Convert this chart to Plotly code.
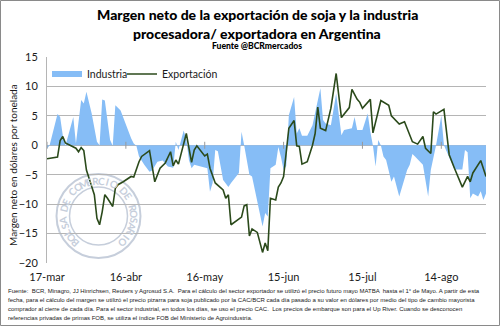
import math
import plotly.graph_objects as go

# ---------------- data ----------------
exp_dates = ["2017-03-17","2017-03-21","2017-03-22","2017-03-23","2017-03-24","2017-03-28","2017-03-29","2017-03-30","2017-03-31",
             "2017-04-01","2017-04-03","2017-04-04","2017-04-05","2017-04-06","2017-04-07","2017-04-08","2017-04-09","2017-04-10","2017-04-11","2017-04-12","2017-04-13","2017-04-15","2017-04-18","2017-04-19","2017-04-21","2017-04-22","2017-04-25","2017-04-27","2017-04-29",
             "2017-05-01","2017-05-03","2017-05-04","2017-05-05","2017-05-06","2017-05-09","2017-05-11","2017-05-12","2017-05-13","2017-05-16","2017-05-17","2017-05-18","2017-05-20","2017-05-23","2017-05-24","2017-05-25","2017-05-26","2017-05-30","2017-05-31",
             "2017-06-01","2017-06-02","2017-06-03","2017-06-05","2017-06-07","2017-06-08","2017-06-09","2017-06-10","2017-06-12","2017-06-13","2017-06-14","2017-06-15","2017-06-17","2017-06-19","2017-06-20","2017-06-21","2017-06-22","2017-06-24","2017-06-26","2017-06-27","2017-06-28","2017-06-29",
             "2017-07-01","2017-07-03","2017-07-05","2017-07-07","2017-07-10","2017-07-11","2017-07-13","2017-07-14","2017-07-15","2017-07-18","2017-07-19","2017-07-22","2017-07-24","2017-07-25","2017-07-26","2017-07-29","2017-07-31",
             "2017-08-03","2017-08-05","2017-08-07","2017-08-08","2017-08-10","2017-08-11","2017-08-12","2017-08-15","2017-08-17","2017-08-19","2017-08-22","2017-08-24","2017-08-25","2017-08-26","2017-08-29","2017-08-31"]
exportacion = [-2.3,-2.0,0.8,1.5,0.4,-0.5,-1.1,-0.4,-0.9,
               -4.2,-7.0,-8.4,-12.4,-13.5,-11.3,-8.4,-9.0,-9.6,-10.4,-7.3,-6.7,-6.2,-5.3,-5.4,-2.8,-1.9,-0.9,-6.2,-3.9,
               -3.0,-1.1,-3.5,-2.5,-3.2,2.0,-2.9,-0.8,-0.1,-1.8,-1.5,-3.9,-6.4,-7.6,-9.0,-8.4,-13.5,-12.2,-10.3,
               -10.1,-15.4,-14.2,-14.8,-18.2,-16.6,-17.9,-9.0,-9.3,-7.1,-6.4,-5.3,2.9,4.2,-0.1,-0.2,-3.2,-2.8,0.0,2.0,6.5,2.9,
               2.5,6.3,12.2,4.7,6.4,9.5,7.8,7.3,6.3,7.8,2.1,7.6,7.1,6.8,5.0,3.6,4.0,
               0.6,0.2,1.5,-0.5,-1.4,5.7,5.3,6.1,-1.6,-3.9,-7.1,-5.3,-6.2,-4.7,-2.6,-5.3]

ind_dates = ["2017-03-17","2017-03-18","2017-03-21","2017-03-22","2017-03-23","2017-03-24","2017-03-27","2017-03-28","2017-03-30","2017-03-31",
             "2017-04-01","2017-04-03","2017-04-05","2017-04-06","2017-04-07","2017-04-08","2017-04-10","2017-04-11","2017-04-12","2017-04-14","2017-04-18","2017-04-19","2017-04-20","2017-04-21","2017-04-23","2017-04-25","2017-04-26","2017-04-28","2017-04-30",
             "2017-05-02","2017-05-04","2017-05-05","2017-05-06","2017-05-08","2017-05-09","2017-05-10","2017-05-11","2017-05-12","2017-05-17","2017-05-18","2017-05-19","2017-05-20","2017-05-21","2017-05-23","2017-05-25","2017-05-26","2017-05-29","2017-05-30","2017-05-31",
             "2017-06-02","2017-06-03","2017-06-07","2017-06-08","2017-06-09","2017-06-10","2017-06-12","2017-06-13","2017-06-14","2017-06-15","2017-06-16","2017-06-17","2017-06-19","2017-06-20","2017-06-21","2017-06-22","2017-06-24","2017-06-26","2017-06-29","2017-06-30",
             "2017-07-01","2017-07-03","2017-07-05","2017-07-07","2017-07-08","2017-07-11","2017-07-12","2017-07-13","2017-07-15","2017-07-17","2017-07-18","2017-07-19","2017-07-20","2017-07-21","2017-07-22","2017-07-23","2017-07-24","2017-07-26","2017-07-27","2017-07-29",
             "2017-08-01","2017-08-02","2017-08-03","2017-08-04","2017-08-07","2017-08-09","2017-08-10","2017-08-12","2017-08-14","2017-08-15","2017-08-19","2017-08-22","2017-08-23","2017-08-24","2017-08-25","2017-08-26","2017-08-28","2017-08-29","2017-08-30","2017-08-31"]
industria = [-0.6,0.0,5.3,4.8,1.7,-0.1,4.8,0.3,7.7,7.1,
             9.1,5.4,0.6,0.0,7.8,7.6,0.9,-0.1,6.8,5.9,1.2,0.3,-0.1,-1.9,-3.3,-4.5,-4.3,-2.8,-2.6,
             -3.6,-3.8,0.6,-0.8,2.5,1.0,-2.5,-3.9,-3.3,-3.9,-7.9,-6.4,-0.8,-1.0,-5.9,-7.1,-6.4,-4.7,2.3,0.0,
             -5.0,-5.3,-13.8,-11.5,-12.1,-3.9,-3.3,-0.3,-2.0,-4.2,-3.5,5.1,8.2,2.0,2.9,1.6,1.6,3.4,9.7,4.3,
             3.7,3.4,8.8,1.7,2.6,2.9,4.8,2.6,2.6,5.4,2.3,-0.1,-3.6,0.9,0.0,-1.9,-2.5,-6.2,-5.3,-8.7,
             -4.2,-3.3,-1.5,-1.9,-3.3,-8.7,-4.2,0.0,5.0,0.0,-4.1,-4.1,-0.8,-1.2,-9.0,-8.2,-8.7,-7.8,-9.3,-8.2]

tick_dates = ["2017-03-17","2017-04-16","2017-05-16","2017-06-15","2017-07-15","2017-08-14"]
tick_labels = ["17-mar","16-abr","16-may","15-jun","15-jul","14-ago"]
y_ticks = [15, 10, 5, 0, -5, -10, -15, -20]

title_1 = "Margen neto de la exportación de soja y la industria"
title_2 = "procesadora/ exportadora en Argentina"
subtitle = "Fuente @BCRmercados"
y_title = "Margen neto en dólares por tonelada"
footnote = ["Fuente:  BCR, Minagro, JJ Hinrichsen, Reuters y Agrosud S.A.  Para el cálculo del sector exportador se utilizó el precio futuro mayo MATBA  hasta el 1° de Mayo. A partir de esta",
            "fecha, para el cálculo del margen se utilizó el precio pizarra para soja publicado por la CAC/BCR cada día pasado a su valor en dólares por medio del tipo de cambio mayorista",
            "comprador al cierre de cada día. Para el sector industrial, en todos los días, se uso el precio CAC.  Los precios de embarque son para el Up River. Cuando se desconocen",
            "referencias privadas de primas FOB, se utiliza el índice FOB del Ministerio de Agroindustria."]
watermark = "BOLSA DE COMERCIO DE ROSARIO"

# ---------------- layout geometry ----------------
W, H = 500, 326
ML, MR, MT, MB = 47, 14, 57, 63
PW, PH = W - ML - MR, H - MT - MB

def px2x(px):
    return (px - ML) / PW

def py2y(py):
    return (H - MB - py) / PH

BODY = "Lato, 'Open Sans', sans-serif"
SMALL = "'Liberation Sans', Arial, sans-serif"
TXT = "#1a1a1a"
WM = "#c6cedb"

fig = go.Figure()
fig.add_trace(go.Scatter(x=ind_dates, y=industria, name="Industria", mode="none",
                         fill="tozeroy", fillcolor="#86bdf6", legend="legend"))
fig.add_trace(go.Scatter(x=exp_dates, y=exportacion, name="Exportación", mode="lines",
                         line=dict(color="#2b4a1b", width=1.6), legend="legend2"))
# small tick marks on the zero axis line
fig.add_trace(go.Scatter(x=tick_dates, y=[0] * len(tick_dates), mode="markers", showlegend=False,
                         hoverinfo="skip",
                         marker=dict(symbol="line-ns", size=5, line=dict(color="#9a9a9a", width=1))))

annotations = [
    dict(text=title_1, x=px2x(257), y=py2y(14), font=dict(family=BODY, size=14, color="#000", weight=900)),
    dict(text=title_2, x=px2x(257), y=py2y(33), font=dict(family=BODY, size=14, color="#000", weight=900)),
    dict(text=subtitle, x=px2x(257), y=py2y(46), font=dict(family=BODY, size=8.6, color="#000", weight=900)),
    dict(text=y_title, x=px2x(13), y=py2y(165), textangle=-90, font=dict(family=BODY, size=10, color=TXT)),
]
for i, line in enumerate(footnote):
    annotations.append(dict(text=line, x=px2x(6), y=py2y(291 + 9 * i), xanchor="left",
                            font=dict(family=SMALL, size=6, color=TXT)))

# watermark seal lettering (decoration)
cx, cy, r = 98.5, 216, 35.5
n = len(watermark)
for i, ch in enumerate(watermark):
    if ch == " ":
        continue
    ang = -138 + 276 * i / (n - 1)
    t = math.radians(ang)
    annotations.append(dict(text=ch, x=px2x(cx + r * math.sin(t)), y=py2y(cy - r * math.cos(t)),
                            textangle=ang, font=dict(family=BODY, size=10, color=WM, weight=700)))

for a in annotations:
    a.setdefault("xanchor", "center")
    a.setdefault("yanchor", "middle")
    a.update(xref="paper", yref="paper", showarrow=False)

shapes = [
    dict(type="rect", xref="paper", yref="paper", x0=px2x(0.5), x1=px2x(499.5), y0=py2y(325.5), y1=py2y(0.5),
         line=dict(color="#8a8a8a", width=1), layer="above"),
    dict(type="circle", xref="paper", yref="paper", x0=px2x(cx - 42), x1=px2x(cx + 42), y0=py2y(cy + 42), y1=py2y(cy - 42),
         line=dict(color=WM, width=2), layer="below"),
    dict(type="circle", xref="paper", yref="paper", x0=px2x(cx - 29), x1=px2x(cx + 29), y0=py2y(cy + 29), y1=py2y(cy - 29),
         line=dict(color=WM, width=1.5), layer="below"),
]

leg_common = dict(orientation="h", xanchor="left", yanchor="middle", itemwidth=30,
                  bgcolor="rgba(0,0,0,0)", font=dict(family=BODY, size=10.5, color=TXT))

fig.update_layout(
    width=W, height=H, autosize=False,
    margin=dict(l=ML, r=MR, t=MT, b=MB),
    paper_bgcolor="white", plot_bgcolor="white",
    font=dict(family=BODY, size=11, color=TXT),
    showlegend=True,
    legend=dict(x=px2x(47), y=py2y(74), **leg_common),
    legend2=dict(x=px2x(122), y=py2y(74), **leg_common),
    annotations=annotations,
    shapes=shapes,
    xaxis=dict(type="date", range=["2017-03-17", "2017-08-31"], tickmode="array",
               tickvals=tick_dates, ticktext=tick_labels, showgrid=False, zeroline=False,
               showline=False, ticks="outside", ticklen=4, tickcolor="rgba(0,0,0,0)",
               tickfont=dict(family=BODY, size=11, color=TXT), fixedrange=True),
    yaxis=dict(range=[-20, 15], tickmode="array", tickvals=y_ticks, showgrid=True,
               gridcolor="#b5b5b5", gridwidth=1, zeroline=True, zerolinecolor="#b5b5b5", zerolinewidth=1,
               showline=True, linecolor="#b5b5b5", linewidth=1, ticks="", ticklabelstandoff=6,
               tickfont=dict(family=BODY, size=11, color=TXT), fixedrange=True),
)

fig.write_html("out.html")
